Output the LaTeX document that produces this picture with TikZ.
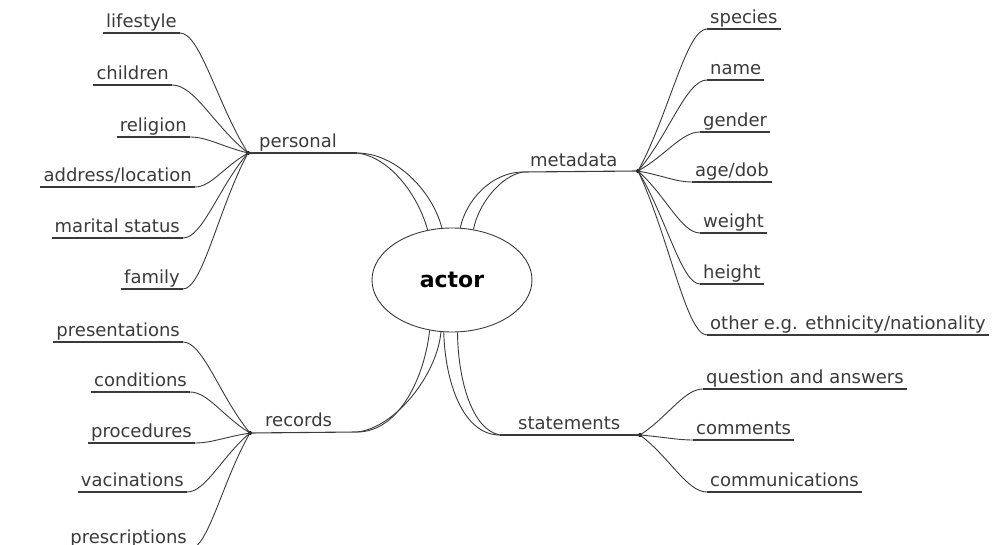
\documentclass[tikz,border=0pt]{standalone}
\usepackage{fontspec}
\setmainfont{DejaVu Sans}
\usetikzlibrary{shapes.geometric}
\definecolor{ink}{HTML}{3A3A3A}
\begin{document}
\begin{tikzpicture}[x=1pt,y=-1pt,
  leaf/.style={inner xsep=3pt, inner ysep=0.5pt, text height=13pt, text depth=4.5pt,
    font=\fontsize{18}{20}\selectfont, text=ink},
  uline/.style={draw=ink, line width=1.1pt},
  conn/.style={draw=ink, line width=0.9pt},
  hubdot/.style={circle, fill=black, inner sep=0pt, minimum size=4pt}]
\useasboundingbox (0,0) rectangle (996,545);

\node[ellipse, draw=ink, line width=0.9pt, minimum width=160pt, minimum height=104pt,
  font=\bfseries\fontsize{22}{24}\selectfont] (actor) at (452,280) {actor};

% ---------- personal ----------
\node[hubdot] (hp) at (248,153) {};
\coordinate (pe) at (357,153);
\node[leaf, anchor=south west] (personal) at (256,153) {personal};
\draw[uline] (hp.center) -- (pe);
\draw[conn] (pe) .. controls (395,153) and (432,190) .. (actor.101);
\draw[conn] (pe) .. controls (390,157) and (418,195) .. (actor.116);
\foreach \n/\t/\x/\y in {p1/lifestyle/180/33, p2/children/172/85, p3/religion/190/137,
  p4/address\slash location/195/187, p5/marital status/183/238, p6/family/183/289}{
  \pgfmathsetmacro\ca{\x+0.3*(248-\x)}
  \pgfmathsetmacro\cb{248-0.45*(248-\x)}
  \pgfmathsetmacro\cc{153+0.4*(\y-153)}
  \node[leaf, anchor=south east] (\n) at (\x,\y) {\t};
  \draw[uline] (\n.south west) -- (\n.south east);
  \draw[conn] (\n.south east) .. controls (\ca,\y) and (\cb,\cc) .. (hp.center);
}

% ---------- metadata ----------
\node[hubdot] (hm) at (638,171) {};
\coordinate (me) at (523,172);
\node[leaf, anchor=south west] (metadata) at (527,172) {metadata};
\draw[uline] (me) -- (hm.center);
\draw[conn] (me) .. controls (492,172) and (466,200) .. (actor.81);
\draw[conn] (me) .. controls (500,176) and (478,205) .. (actor.67);
\foreach \n/\t/\x/\y in {m1/species/707/29, m2/name/707/80, m3/gender/700/132,
  m4/age\slash dob/692/182, m5/weight/700/233, m6/height/700/284,
  m7/other e.g. ethnicity\slash nationality/707/335}{
  \pgfmathsetmacro\ca{\x-0.3*(\x-638)}
  \pgfmathsetmacro\cb{638+0.45*(\x-638)}
  \pgfmathsetmacro\cc{171+0.4*(\y-171)}
  \node[leaf, anchor=south west] (\n) at (\x,\y) {\t};
  \draw[uline] (\n.south west) -- (\n.south east);
  \draw[conn] (\n.south west) .. controls (\ca,\y) and (\cb,\cc) .. (hm.center);
}

% ---------- records ----------
\node[hubdot] (hr) at (250,433) {};
\coordinate (re) at (357,432);
\node[leaf, anchor=south west] (records) at (262,432) {records};
\draw[uline] (hr.center) -- (re);
\draw[conn] (re) .. controls (400,432) and (425,375) .. (actor.246);
\draw[conn] (re) .. controls (395,428) and (437,375) .. (actor.258);
\foreach \n/\t/\x/\y in {r1/presentations/183/342, r2/conditions/190/392,
  r3/procedures/195/443, r4/vacinations/187/492, r5/prescriptions/190/549}{
  \pgfmathsetmacro\ca{\x+0.3*(250-\x)}
  \pgfmathsetmacro\cb{250-0.45*(250-\x)}
  \pgfmathsetmacro\cc{433+0.4*(\y-433)}
  \node[leaf, anchor=south east] (\n) at (\x,\y) {\t};
  \draw[uline] (\n.south west) -- (\n.south east);
  \draw[conn] (\n.south east) .. controls (\ca,\y) and (\cb,\cc) .. (hr.center);
}

% ---------- statements ----------
\node[hubdot] (hs) at (640,435) {};
\coordinate (se) at (500,435);
\node[leaf, anchor=south west] (statements) at (515,435) {statements};
\draw[uline] (se) -- (hs.center);
\draw[conn] (se) .. controls (462,435) and (445,380) .. (actor.261);
\draw[conn] (se) .. controls (472,430) and (458,380) .. (actor.276);
\foreach \n/\t/\x/\y in {s1/question and answers/703/389, s2/comments/693/440,
  s3/communications/707/492}{
  \pgfmathsetmacro\ca{\x-0.3*(\x-640)}
  \pgfmathsetmacro\cb{640+0.45*(\x-640)}
  \pgfmathsetmacro\cc{435+0.4*(\y-435)}
  \node[leaf, anchor=south west] (\n) at (\x,\y) {\t};
  \draw[uline] (\n.south west) -- (\n.south east);
  \draw[conn] (\n.south west) .. controls (\ca,\y) and (\cb,\cc) .. (hs.center);
}
\end{tikzpicture}
\end{document}
